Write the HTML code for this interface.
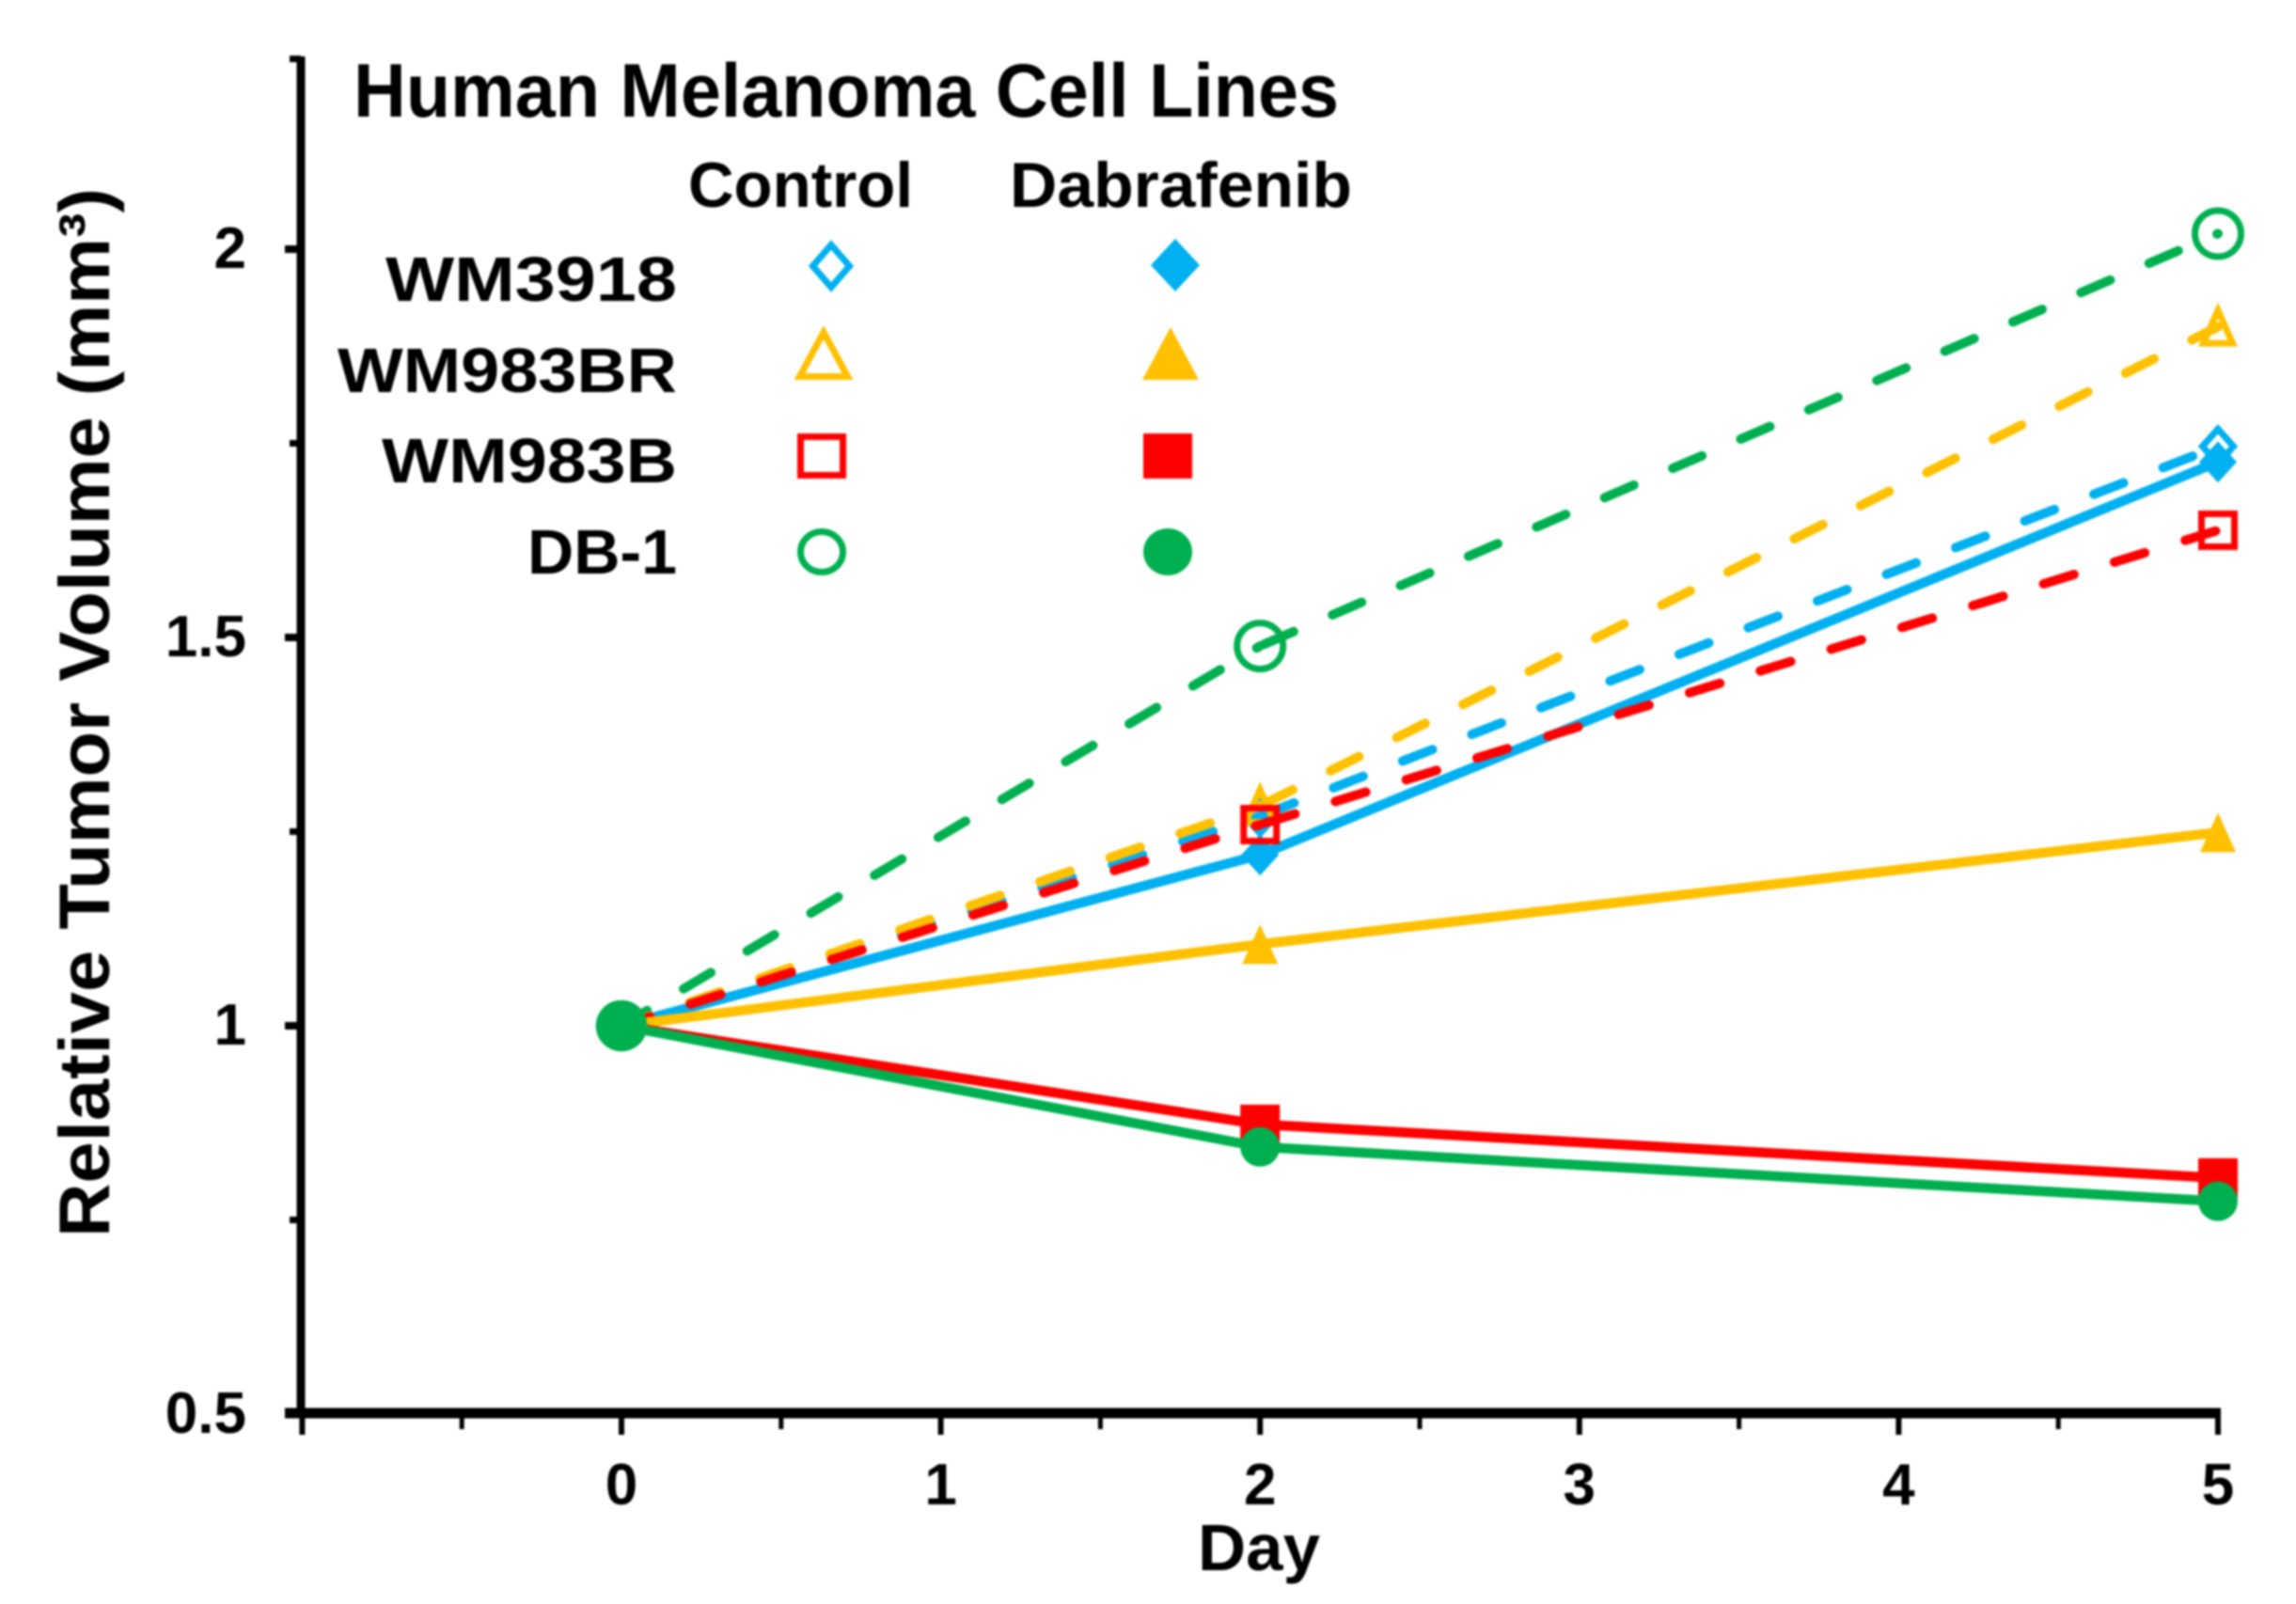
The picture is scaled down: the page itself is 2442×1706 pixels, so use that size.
<!DOCTYPE html>
<html lang="en">
<head>
<meta charset="utf-8">
<title>Relative Tumor Volume - Human Melanoma Cell Lines</title>
<style>
  html, body { margin: 0; padding: 0; background: #fff; }
  #chart { display: block; width: 2442px; height: 1706px; filter: blur(1px); }
  text { font-family: "Liberation Sans", sans-serif; font-weight: bold; fill: #000; }
</style>
</head>
<body>
<svg id="chart" xmlns="http://www.w3.org/2000/svg" width="2442" height="1706" viewBox="0 0 2442 1706">
  <rect x="0" y="0" width="2442" height="1706" fill="#fff"/>
  <g id="axes"></g>
  <g id="series"></g>
  <g id="legend">
    <text x="376" y="124" font-size="81" textLength="1048" lengthAdjust="spacingAndGlyphs">Human Melanoma Cell Lines</text>
    <text x="732" y="220" font-size="68" textLength="239" lengthAdjust="spacingAndGlyphs">Control</text>
    <text x="1074" y="220" font-size="68" textLength="364" lengthAdjust="spacingAndGlyphs">Dabrafenib</text>
    <text x="410" y="320" font-size="67" textLength="310" lengthAdjust="spacingAndGlyphs">WM3918</text>
    <text x="359" y="417" font-size="67" textLength="361" lengthAdjust="spacingAndGlyphs">WM983BR</text>
    <text x="406" y="513" font-size="67" textLength="314" lengthAdjust="spacingAndGlyphs">WM983B</text>
    <text x="561" y="610" font-size="67" textLength="159" lengthAdjust="spacingAndGlyphs">DB-1</text>
  </g>
  <text transform="translate(116 1316) rotate(-90)" x="0" y="0" font-size="76" textLength="1116" lengthAdjust="spacingAndGlyphs">Relative Tumor Volume (mm³)</text>
  <text x="1274" y="1670" font-size="70" textLength="130" lengthAdjust="spacingAndGlyphs">Day</text>
</svg>
<script>
const days = [0, 2, 5];
const wm3918Control = [1, 1.27, 1.746];
const wm3918Dabrafenib = [1, 1.22, 1.726];
const wm983brControl = [1, 1.283, 1.90];
const wm983brDabrafenib = [1, 1.105, 1.249];
const wm983bControl = [1, 1.259, 1.638];
const wm983bDabrafenib = [1, 0.873, 0.804];
const db1Control = [1, 1.489, 2.02];
const db1Dabrafenib = [1, 0.844, 0.774];

const xLabels = [0, 1, 2, 3, 4, 5];
const xMajorTicks = [-1, 0, 1, 2, 3, 4, 5];
const xMinorTicks = [-0.5, 0.5, 1.5, 2.5, 3.5, 4.5];
const yLabels = ['0.5', '1', '1.5', '2'];
const yMajorTicks = [0.5, 1, 1.5, 2];
const yMinorTicks = [0.75, 1.25, 1.75, 2.245];

const NS = 'http://www.w3.org/2000/svg';
const BLUE = '#00B0F0', ORANGE = '#FFC000', RED = '#FF0000', GREEN = '#00B050';

function x(day) { return 661 + 339.6 * day; }
function y(value) { return 1091 - (value - 1) * 826; }

function make(tag, parent) {
  const el = document.createElementNS(NS, tag);
  parent.appendChild(el);
  return el;
}

function drawTick(parent, x1, y1, x2, y2, width, name) {
  const t = make('line', parent);
  
  
  t.setAttribute('x1', x1);
  t.setAttribute('y1', y1);
  t.setAttribute('x2', x2);
  t.setAttribute('y2', y2);
  t.setAttribute('stroke', '#000');
  t.setAttribute('stroke-width', width);
}

function drawMarker(parent, shape, cx, cy, hw, hh, open, color, name) {
  const sw = 7;
  const inset = open ? sw / 2 : 0;
  const w = hw - inset, h = hh - inset;
  let m;
  if (shape === 'circle') {
    m = make('ellipse', parent);
    m.setAttribute('cx', cx);
    m.setAttribute('cy', cy);
    m.setAttribute('rx', w);
    m.setAttribute('ry', h);
  } else if (shape === 'square') {
    m = make('rect', parent);
    m.setAttribute('x', cx - w);
    m.setAttribute('y', cy - h);
    m.setAttribute('width', 2 * w);
    m.setAttribute('height', 2 * h);
  } else if (shape === 'triangle') {
    m = make('polygon', parent);
    m.setAttribute('points', cx + ',' + (cy - h) + ' ' + (cx + w) + ',' + (cy + h) + ' ' + (cx - w) + ',' + (cy + h));
  } else {
    m = make('polygon', parent);
    m.setAttribute('points', cx + ',' + (cy - h) + ' ' + (cx + w) + ',' + cy + ' ' + cx + ',' + (cy + h) + ' ' + (cx - w) + ',' + cy);
  }
  
  
  m.setAttribute('fill', open ? 'none' : color);
  if (open) {
    m.setAttribute('stroke', color);
    m.setAttribute('stroke-width', sw);
  }
}

/* axes */
const axes = document.getElementById('axes');
drawTick(axes, 320, 60, 320, 1508, 9, 'y-axis-line');
drawTick(axes, 303, 1503, x(5) + 3, 1503, 11, 'x-axis-line');

xMajorTicks.forEach(function (d) {
  drawTick(axes, x(d), 1503, x(d), 1526, 6, 'x-major-tick');
});
xMinorTicks.forEach(function (d) {
  drawTick(axes, x(d), 1503, x(d), 1520, 5, 'x-minor-tick');
});
yMajorTicks.forEach(function (v) {
  drawTick(axes, 303, y(v), 320, y(v), 8, 'y-major-tick');
});
yMinorTicks.forEach(function (v) {
  drawTick(axes, 308, y(v), 320, y(v), 7, 'y-minor-tick');
});

xLabels.forEach(function (d) {
  const t = make('text', axes);
  
  
  t.setAttribute('x', x(d));
  t.setAttribute('y', 1600);
  t.setAttribute('font-size', '62');
  t.setAttribute('text-anchor', 'middle');
  t.textContent = d;
});
yLabels.forEach(function (label, i) {
  const t = make('text', axes);
  
  
  t.setAttribute('x', 262);
  t.setAttribute('y', y(yMajorTicks[i]) + 20);
  t.setAttribute('font-size', '62');
  t.setAttribute('text-anchor', 'end');
  t.textContent = label;
});

/* series, back to front */
const seriesValues = [wm3918Dabrafenib, db1Control, wm3918Control, wm983brControl, wm983bControl, wm983brDabrafenib, wm983bDabrafenib, db1Dabrafenib];
const seriesNames = ['wm3918-dabrafenib', 'db1-control', 'wm3918-control', 'wm983br-control', 'wm983b-control', 'wm983br-dabrafenib', 'wm983b-dabrafenib', 'db1-dabrafenib'];
const seriesColors = [BLUE, GREEN, BLUE, ORANGE, RED, ORANGE, RED, GREEN];
const seriesShapes = ['diamond', 'circle', 'diamond', 'triangle', 'square', 'triangle', 'square', 'circle'];
const seriesOpen = [false, true, true, true, true, false, false, false];

const seriesGroup = document.getElementById('series');
const markerSizes = { circle: [21, 21], square: [21, 21], triangle: [19, 21], diamond: [20, 22] };

seriesValues.forEach(function (values, i) {
  const g = make('g', seriesGroup);
  
  

  for (let k = 0; k < values.length - 1; k++) {
    const line = make('line', g);
    
    
    line.setAttribute('x1', x(days[k]));
    line.setAttribute('y1', y(values[k]));
    line.setAttribute('x2', x(days[k + 1]));
    line.setAttribute('y2', y(values[k + 1]));
    line.setAttribute('stroke', seriesColors[i]);
    line.setAttribute('stroke-width', seriesOpen[i] ? 10 : 10.5);
    line.setAttribute('stroke-linecap', 'round');
    if (seriesOpen[i]) {
      line.setAttribute('stroke-dasharray', '33.8 45');
      line.setAttribute('stroke-dashoffset', k === 0 ? '2' : '-5');
    }
  }

  values.forEach(function (v, k) {
    let size = markerSizes[seriesShapes[i]];
    if (seriesShapes[i] === 'circle' && seriesOpen[i]) { size = [28, 28]; }
    /* at day 0 all series coincide and only the large DB-1 dabrafenib dot shows */
    if (days[k] === 0 && seriesNames[i] !== 'db1-dabrafenib') { return; }
    const scale = days[k] === 0 ? 1.3 : 1;
    drawMarker(g, seriesShapes[i], x(days[k]), y(v), size[0] * scale, size[1] * scale, seriesOpen[i], seriesColors[i], seriesNames[i] + '-marker');
  });
});

/* legend markers */
const legend = document.getElementById('legend');
drawMarker(legend, 'diamond', 884, 283, 23, 26, true, BLUE, 'legend-marker-wm3918-control');
drawMarker(legend, 'diamond', 1250, 282, 26, 28, false, BLUE, 'legend-marker-wm3918-dabrafenib');
drawMarker(legend, 'triangle', 876, 377, 29, 27, true, ORANGE, 'legend-marker-wm983br-control');
drawMarker(legend, 'triangle', 1245, 376, 30, 28, false, ORANGE, 'legend-marker-wm983br-dabrafenib');
drawMarker(legend, 'square', 874, 485, 26, 24, true, RED, 'legend-marker-wm983b-control');
drawMarker(legend, 'square', 1242, 485, 26, 24, false, RED, 'legend-marker-wm983b-dabrafenib');
drawMarker(legend, 'circle', 874, 587, 26, 25, true, GREEN, 'legend-marker-db1-control');
drawMarker(legend, 'circle', 1242, 587, 26, 25, false, GREEN, 'legend-marker-db1-dabrafenib');
</script>
</body>
</html>
